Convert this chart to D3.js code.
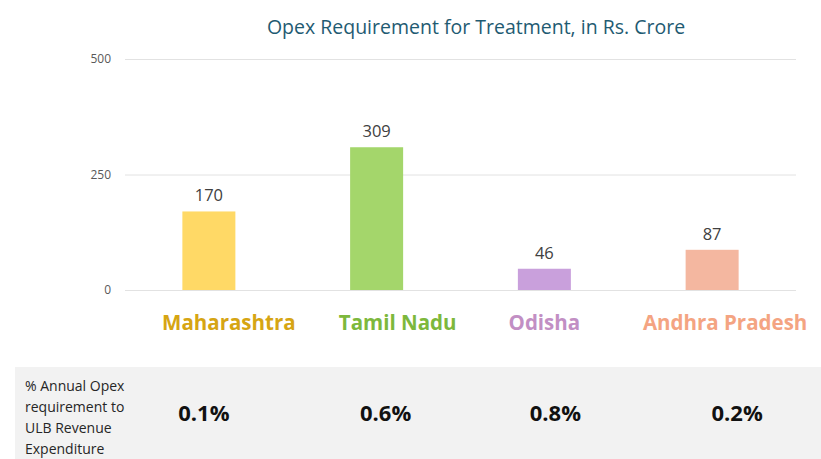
<!DOCTYPE html>
<html>
<head>
<meta charset="utf-8">
<script src="https://cdn.jsdelivr.net/npm/d3@7"></script>
<style>
  body { margin: 0; padding: 0; background: #fff; }
  text { font-family: 'Open Sans', Lato, sans-serif; }
</style>
</head>
<body>
<div id="main"></div>
<script>
// data
const states = ['Maharashtra', 'Tamil Nadu', 'Odisha', 'Andhra Pradesh'];
const opex = [170, 309, 46, 87];
const opexShare = ['0.1%', '0.6%', '0.8%', '0.2%'];
const yTicks = [0, 250, 500];
const rowLabel = ['% Annual Opex', 'requirement to', 'ULB Revenue', 'Expenditure'];

// styling / layout
const barFill = ['#FFD966', '#A4D66B', '#C9A0DC', '#F4B7A0'];
const labelFill = ['#D6A513', '#7DB83C', '#C28FC4', '#F4A482'];
const labelDx = [20, 21, 0, 13];
const shareDx = [-5, 9, 11, 25];

const WIDTH = 821, HEIGHT = 459;
const svg = d3.select('#main').append('svg')
    .attr('width', WIDTH)
    .attr('height', HEIGHT);

const scaleX = d3.scaleBand()
    .domain(states)
    .range([125, 796])
    .paddingInner(0.684)
    .paddingOuter(0.342);
const scaleY = d3.scaleLinear()
    .domain([0, 500])
    .range([290, 59]);

// title
svg.append('text')
    .text('Opex Requirement for Treatment, in Rs. Crore')
    .attr('x', 476)
    .attr('y', 34)
    .attr('text-anchor', 'middle')
    .attr('font-size', 19.5)
    .attr('fill', '#1F5B72');

// gridlines + y axis labels
const axisY = d3.axisLeft(scaleY)
    .tickValues(yTicks)
    .tickSize(-(796 - 125))
    .tickPadding(14);
const gY = svg.append('g')
    .attr('transform', 'translate(125,0)')
    .call(axisY);
gY.select('.domain').remove();
gY.selectAll('.tick line').attr('stroke', '#E2E2E2');
gY.selectAll('.tick text')
    .attr('fill', '#595959')
    .attr('font-size', 12)
    .attr('font-family', 'Lato, sans-serif');

// bars
const data = states.map((s, i) => ({ state: s, value: opex[i], share: opexShare[i], i: i }));
svg.selectAll('rect.bar').data(data).enter().append('rect')
    .attr('class', 'bar')
    .attr('x', d => scaleX(d.state))
    .attr('y', d => scaleY(d.value))
    .attr('width', scaleX.bandwidth())
    .attr('height', d => scaleY(0) - scaleY(d.value))
    .attr('fill', d => barFill[d.i]);

// value labels
svg.selectAll('text.val').data(data).enter().append('text')
    .attr('class', 'val')
    .text(d => d.value)
    .attr('x', d => scaleX(d.state) + scaleX.bandwidth() / 2)
    .attr('y', d => scaleY(d.value) - 10)
    .attr('text-anchor', 'middle')
    .attr('font-size', 16.5)
    .attr('fill', '#404040');

// category labels
svg.selectAll('text.cat').data(data).enter().append('text')
    .attr('class', 'cat')
    .text(d => d.state)
    .attr('x', d => scaleX(d.state) + scaleX.bandwidth() / 2 + labelDx[d.i])
    .attr('y', 330)
    .attr('text-anchor', 'middle')
    .attr('font-size', 20.5)
    .attr('font-weight', 'bold')
    .attr('fill', d => labelFill[d.i]);

// bottom table row
svg.append('rect')
    .attr('x', 15)
    .attr('y', 367)
    .attr('width', WIDTH - 15)
    .attr('height', HEIGHT - 367)
    .attr('fill', '#F2F2F2');

svg.selectAll('text.row').data(rowLabel).enter().append('text')
    .attr('class', 'row')
    .text(d => d)
    .attr('x', 25)
    .attr('y', (d, i) => 391 + i * 21)
    .attr('font-size', 14)
    .attr('font-family', 'Lato, sans-serif')
    .attr('fill', '#262626');

svg.selectAll('text.share').data(data).enter().append('text')
    .attr('class', 'share')
    .text(d => d.share)
    .attr('x', d => scaleX(d.state) + scaleX.bandwidth() / 2 + shareDx[d.i])
    .attr('y', 421)
    .attr('text-anchor', 'middle')
    .attr('font-size', 22)
    .attr('font-weight', 'bold')
    .attr('fill', '#111');
</script>
</body>
</html>
